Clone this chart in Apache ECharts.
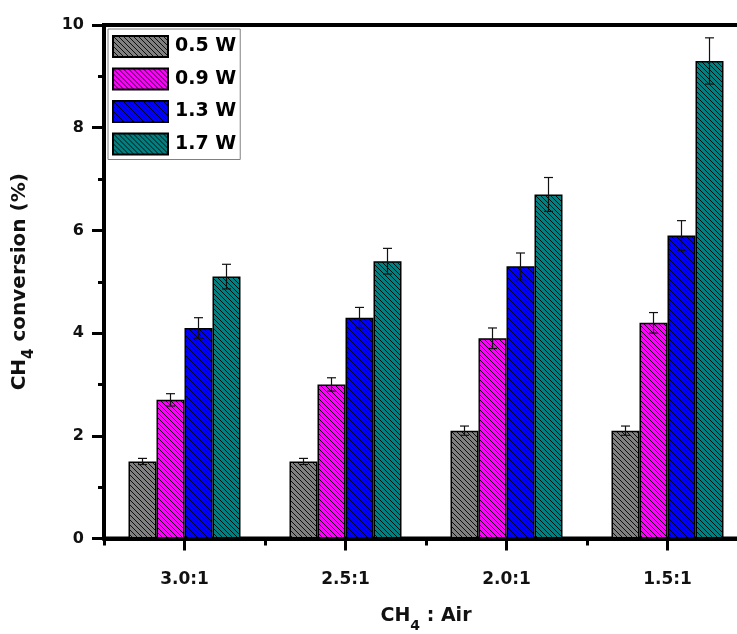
<!DOCTYPE html>
<html><head><meta charset="utf-8">
<script src="https://cdn.jsdelivr.net/npm/echarts@6/dist/echarts.min.js"></script>
<style>html,body{margin:0;padding:0;background:#fff}#c{width:737px;height:634px}</style>
</head><body><div id="c"></div>
<script>
const categories = ['3.0:1', '2.5:1', '2.0:1', '1.5:1'];
const seriesNames = ['0.5 W', '0.9 W', '1.3 W', '1.7 W'];
const w05 = [1.5, 1.5, 2.1, 2.1];
const w09 = [2.7, 3.0, 3.9, 4.2];
const w13 = [4.1, 4.3, 5.3, 5.9];
const w17 = [5.1, 5.4, 6.7, 9.3];
const err05 = [0.06, 0.06, 0.09, 0.09];
const err09 = [0.12, 0.13, 0.2, 0.2];
const err13 = [0.2, 0.2, 0.26, 0.29];
const err17 = [0.24, 0.25, 0.33, 0.45];
const yTicks = [0, 2, 4, 6, 8, 10];

const values = [w05, w09, w13, w17];
const errors = [err05, err09, err13, err17];
const fills = ['#808080', '#ff00ff', '#0000ff', '#008080'];
const FONT = 'DejaVu Sans';

function hatch(bg) {
  const s = 5;
  const c = document.createElement('canvas');
  c.width = s; c.height = s;
  const g = c.getContext('2d');
  g.fillStyle = bg; g.fillRect(0, 0, s, s);
  g.strokeStyle = 'rgba(0,0,0,0.9)'; g.lineWidth = 1;
  g.beginPath();
  g.moveTo(-1, -1); g.lineTo(s + 1, s + 1);
  g.moveTo(-1, s - 1); g.lineTo(1, s + 1);
  g.moveTo(s - 1, -1); g.lineTo(s + 1, 1);
  g.stroke();
  return { image: c, repeat: 'repeat' };
}

const BW = 28;
const series = [];
seriesNames.forEach((n, i) => {
  series.push({
    name: n, type: 'bar', xAxisIndex: 0, barWidth: BW, barGap: '0%',
    itemStyle: { color: hatch(fills[i]), borderColor: '#000', borderWidth: 1.5 },
    data: values[i]
  });
});
seriesNames.forEach((n, i) => {
  series.push({
    type: 'custom', xAxisIndex: 0, silent: true, z: 5,
    data: categories.map((c, j) => [j, values[i][j], errors[i][j]]),
    renderItem: function (params, api) {
      const j = api.value(0), v = api.value(1), e = api.value(2);
      const off = (i - 1.5) * BW;
      const top = api.coord([j, v + e]);
      const bot = api.coord([j, v - e]);
      const x = top[0] + off;
      const cap = 4.5;
      const st = { stroke: '#111', lineWidth: 1.2 };
      return { type: 'group', children: [
        { type: 'line', shape: { x1: x, y1: top[1], x2: x, y2: bot[1] }, style: st },
        { type: 'line', shape: { x1: x - cap, y1: top[1], x2: x + cap, y2: top[1] }, style: st },
        { type: 'line', shape: { x1: x - cap, y1: bot[1], x2: x + cap, y2: bot[1] }, style: st }
      ] };
    }
  });
});

const chart = echarts.init(document.getElementById('c'), null, { renderer: 'canvas' });
chart.setOption({
  animation: false,
  backgroundColor: '#fff',
  grid: { left: 104, top: 25, width: 644, height: 513.5, containLabel: false, outerBoundsMode: 'none',
    show: true, borderColor: '#000', borderWidth: 4, backgroundColor: 'transparent' },
  legend: {
    data: seriesNames, orient: 'vertical', left: 108, top: 29, icon: 'rect',
    padding: [6, 4, 4, 4], itemWidth: 55, itemHeight: 21, itemGap: 9.5,
    borderColor: '#808080', borderWidth: 1, backgroundColor: '#fff',
    textStyle: { fontFamily: FONT, fontWeight: 'bold', fontSize: 19, color: '#000', padding: [0, 0, 0, 2] },
    selectedMode: false
  },
  xAxis: [{
    type: 'category', data: categories, position: 'bottom',
    axisLine: { lineStyle: { color: '#000', width: 4 } },
    axisTick: { show: true, length: 7, lineStyle: { color: '#000', width: 3 } },
    axisLabel: { margin: 33, fontFamily: FONT, fontWeight: 'bold', fontSize: 17, color: '#111' },
    name: '{n|CH}{s|4}{n| : Air}', nameLocation: 'middle', nameGap: 68,
    nameTextStyle: { rich: {
      n: { fontFamily: FONT, fontWeight: 'bold', fontSize: 19, color: '#111', lineHeight: 20, verticalAlign: 'top' },
      s: { fontFamily: FONT, fontWeight: 'bold', fontSize: 14, color: '#111', lineHeight: 27, verticalAlign: 'bottom' }
    } }
  }, {
    type: 'category', data: categories, position: 'bottom',
    axisLine: { show: false },
    axisTick: { show: true, alignWithLabel: true, length: 12, lineStyle: { color: '#000', width: 3 } },
    axisLabel: { show: false }
  }],
  yAxis: {
    type: 'value', min: 0, max: 10, interval: 2,
    axisLine: { show: true, lineStyle: { color: '#000', width: 4 } },
    axisTick: { show: true, length: 12, lineStyle: { color: '#000', width: 3 } },
    minorTick: { show: true, splitNumber: 2, length: 6, lineStyle: { color: '#000', width: 3 } },
    splitLine: { show: false },
    axisLabel: { margin: 20, fontFamily: FONT, fontWeight: 'bold', fontSize: 16, color: '#111',
      formatter: v => (yTicks.indexOf(v) >= 0 ? String(v) : '') },
    name: '{n|CH}{s|4}{n| conversion (%)}', nameLocation: 'middle', nameRotate: 90, nameGap: 67,
    nameTextStyle: { rich: {
      n: { fontFamily: FONT, fontWeight: 'bold', fontSize: 20, color: '#111', lineHeight: 20, verticalAlign: 'top' },
      s: { fontFamily: FONT, fontWeight: 'bold', fontSize: 15, color: '#111', lineHeight: 27, verticalAlign: 'bottom' }
    } }
  },
  series: series
});
</script></body></html>
